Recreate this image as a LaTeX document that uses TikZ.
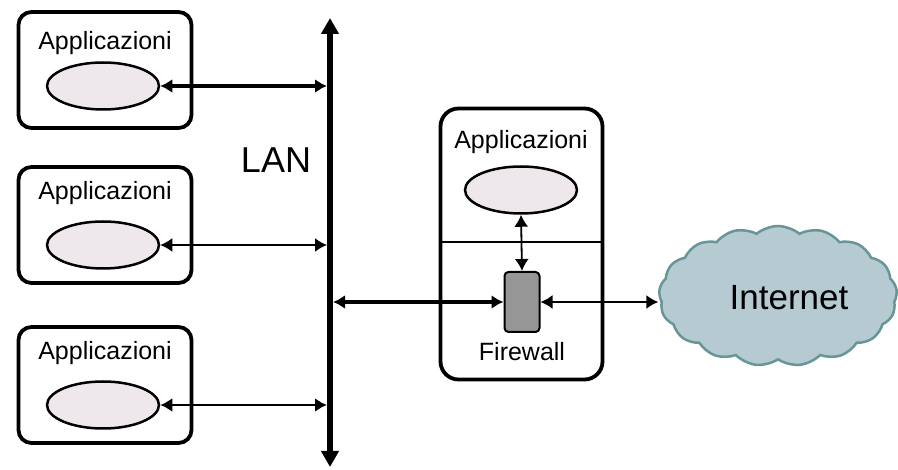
\documentclass[tikz,border=0pt]{standalone}
\usepackage{fontspec}
\setmainfont{Liberation Sans}
\usetikzlibrary{shapes.geometric}
\usetikzlibrary{shapes.symbols}
\usetikzlibrary{arrows.meta}
\definecolor{appfill}{RGB}{238,232,236}
\definecolor{fwfill}{RGB}{150,150,150}
\definecolor{cloudfill}{RGB}{182,202,210}
\definecolor{clouddraw}{RGB}{104,150,150}
\tikzset{
  hostbox/.style={draw, line width=3.8pt, rounded corners=13pt, minimum width=173pt, minimum height=116pt, inner sep=0pt},
  appell/.style={draw, ellipse, line width=2.5pt, fill=appfill, minimum width=112pt, minimum height=47pt, inner sep=0pt},
  applabel/.style={font=\fontsize{25}{25}\selectfont, inner sep=0pt},
  link/.style={{Latex[length=12pt,width=14pt]}-{Latex[length=12pt,width=14pt]}}
}

\begin{document}
\begin{tikzpicture}[x=1pt, y=-1pt]
	\useasboundingbox (0,0) rectangle (898,470);
	% host boxes on the left
	\node[hostbox] (host1) at (105,70) {};
	\node[hostbox] (host2) at (105,225) {};
	\node[hostbox] (host3) at (105,385) {};
	\node[applabel] (app1) at (105,43) {Applicazioni};
	\node[applabel] (app2) at (105,193) {Applicazioni};
	\node[applabel] (app3) at (105,353) {Applicazioni};
	\node[appell] (ell1) at (103,86) {};
	\node[appell] (ell2) at (103,245) {};
	\node[appell] (ell3) at (103,405) {};
	%
	\coordinate (busT) at (330,18);
	\coordinate (busB) at (330,467);
	\node[font=\fontsize{36}{36}\selectfont, inner sep=0pt] (lan) at (276,160) {LAN};
	% firewall host
	\node[draw, line width=3.8pt, rounded corners=18pt, minimum width=162pt, minimum height=271pt, inner sep=0pt] (fwbox) at (521.5,244) {};
	\coordinate (divL) at (440,242);
	\coordinate (divR) at (603,242);
	\draw[line width=1.8pt] (divL) -- (divR);
	\node[applabel] (app4) at (521,142) {Applicazioni};
	\node[appell] (ell4) at (521,190) {};
	\node[draw, line width=2pt, fill=fwfill, rounded corners=4pt, minimum width=35pt, minimum height=60pt, inner sep=0pt] (fw) at (522,302) {};
	\node[applabel] (fwlabel) at (522,352) {Firewall};
	% internet
	\node[cloud, cloud puffs=17, cloud puff arc=80, aspect=1.7, draw=clouddraw, line width=2.5pt, fill=cloudfill, minimum width=238pt, minimum height=140pt, inner sep=0pt] (inet) at (778,296) {};
	\node[font=\fontsize{35}{35}\selectfont, inner sep=0pt] (inetlabel) at (789,298) {Internet};
	%
	\draw[link, line width=3.5pt, shorten >=3pt] (ell1.east) -- (ell1.east -| busT);
	\draw[link, line width=1.8pt, shorten >=3pt] (ell2.east) -- (ell2.east -| busT);
	\draw[link, line width=2.6pt, shorten >=3pt] (ell3.east) -- (ell3.east -| busT);
	\draw[link, line width=3.5pt, shorten >=3pt] (fw.west) -- (fw.west -| busT);
	\draw[link, line width=1.8pt] (ell4.south) -- (fw.north);
	\draw[link, line width=1.8pt] (fw.east) -- (fw.east -| inet.west);
	\draw[line width=6pt, {Triangle[length=16pt,width=17pt]}-{Triangle[length=16pt,width=17pt]}] (busT) -- (busB);
\end{tikzpicture}
\end{document}
